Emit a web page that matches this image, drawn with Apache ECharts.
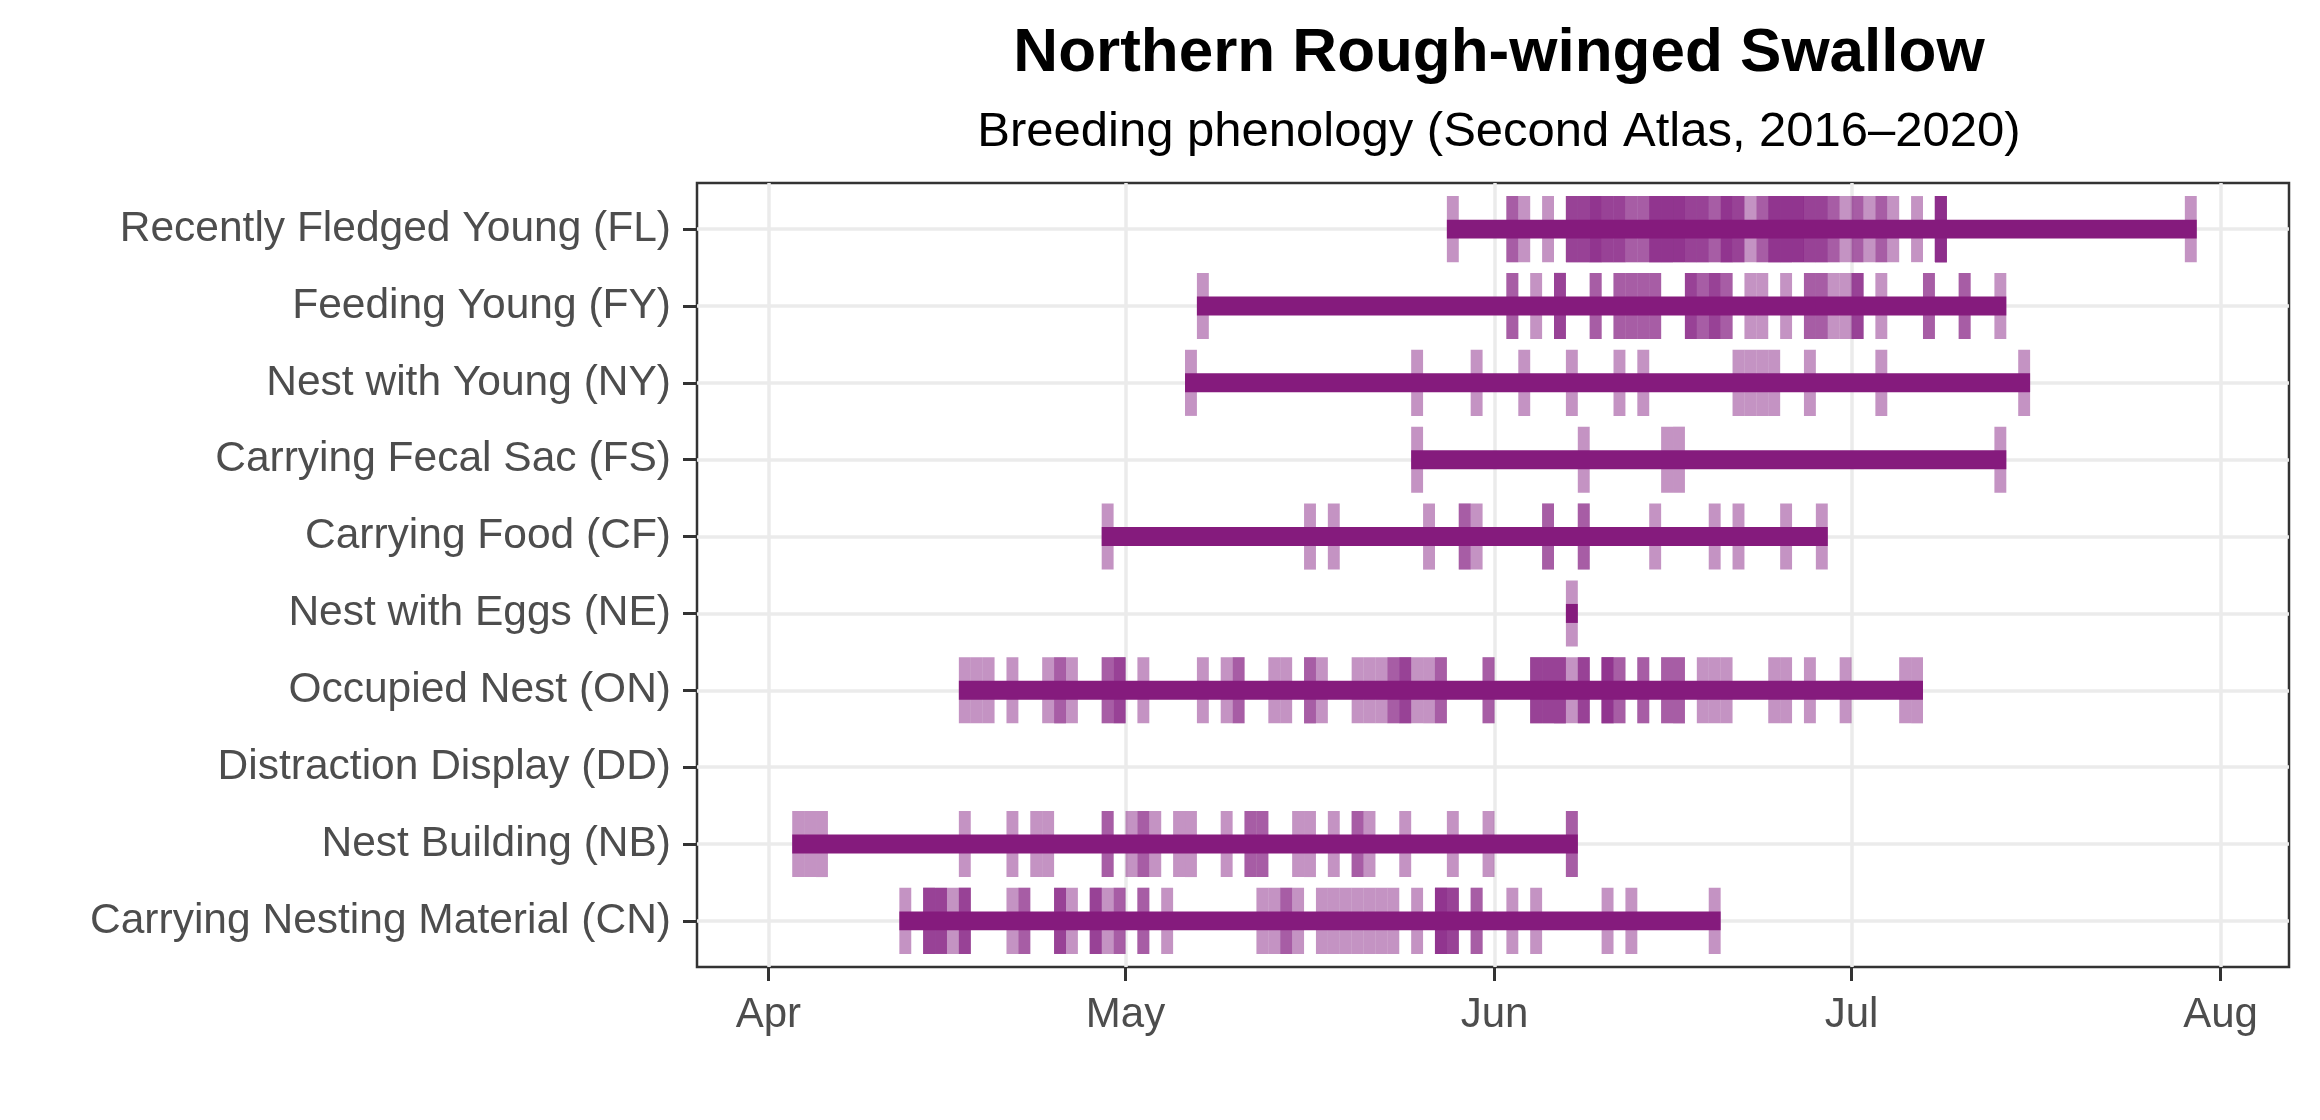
<!DOCTYPE html>
<html>
<head>
<meta charset="utf-8">
<script src="https://cdn.jsdelivr.net/npm/echarts@6/dist/echarts.min.js"></script>
<style>
html,body{margin:0;padding:0;background:#ffffff;}
#chart{width:2320px;height:1120px;}
</style>
</head>
<body>
<div id="chart"></div>
<script>
// ---------------- data ----------------
const titleText = 'Northern Rough-winged Swallow';
const subtitleText = 'Breeding phenology (Second Atlas, 2016\u20132020)';

// rows, top to bottom
const categories = [
  'Recently Fledged Young (FL)',
  'Feeding Young (FY)',
  'Nest with Young (NY)',
  'Carrying Fecal Sac (FS)',
  'Carrying Food (CF)',
  'Nest with Eggs (NE)',
  'Occupied Nest (ON)',
  'Distraction Display (DD)',
  'Nest Building (NB)',
  'Carrying Nesting Material (CN)'
];

// observations per code: [month-day, number of records on that day]
const FL = [['05-28',1],['06-02',2],['06-03',1],['06-05',1],['06-07',3],['06-08',3],['06-09',4],['06-10',3],['06-11',3],['06-12',2],['06-13',2],['06-14',4],['06-15',4],['06-16',4],['06-17',3],['06-18',3],['06-19',2],['06-20',4],['06-21',3],['06-22',1],['06-23',2],['06-24',4],['06-25',4],['06-26',4],['06-27',3],['06-28',3],['06-29',2],['06-30',1],['07-01',2],['07-02',1],['07-03',2],['07-04',1],['07-06',1],['07-08',5],['07-29',1]];
const FY = [['05-07',1],['06-02',2],['06-04',1],['06-06',3],['06-09',2],['06-11',2],['06-12',2],['06-13',2],['06-14',2],['06-17',3],['06-18',2],['06-19',3],['06-20',2],['06-22',1],['06-23',1],['06-25',1],['06-27',2],['06-28',2],['06-29',1],['06-30',1],['07-01',3],['07-03',1],['07-07',2],['07-10',2],['07-13',1]];
const NY = [['05-06',1],['05-25',1],['05-30',1],['06-03',1],['06-07',1],['06-11',1],['06-13',1],['06-21',1],['06-22',1],['06-23',1],['06-24',1],['06-27',1],['07-03',1],['07-15',1]];
const FS = [['05-25',1],['06-08',1],['06-15',1],['06-16',1],['07-13',1]];
const CF = [['04-29',1],['05-16',1],['05-18',1],['05-26',1],['05-29',2],['05-30',1],['06-05',2],['06-08',2],['06-14',1],['06-19',1],['06-21',1],['06-25',1],['06-28',1]];
const NE = [['06-07',1]];
const ON = [['04-17',1],['04-18',1],['04-19',1],['04-21',1],['04-24',1],['04-25',2],['04-26',1],['04-29',2],['04-30',3],['05-02',1],['05-07',1],['05-09',1],['05-10',2],['05-13',1],['05-14',1],['05-16',2],['05-17',1],['05-20',1],['05-21',1],['05-22',1],['05-23',2],['05-24',3],['05-25',1],['05-26',1],['05-27',2],['05-31',2],['06-04',3],['06-05',3],['06-06',3],['06-07',1],['06-08',3],['06-10',4],['06-11',2],['06-13',2],['06-15',2],['06-16',2],['06-18',1],['06-19',1],['06-20',1],['06-24',1],['06-25',1],['06-27',1],['06-30',1],['07-05',1],['07-06',1]];
const DD = [];
const NB = [['04-03',1],['04-04',1],['04-05',1],['04-17',1],['04-21',1],['04-23',1],['04-24',1],['04-29',2],['05-01',1],['05-02',2],['05-03',1],['05-05',1],['05-06',1],['05-09',1],['05-11',2],['05-12',2],['05-15',1],['05-16',1],['05-18',1],['05-20',2],['05-21',1],['05-24',1],['05-28',1],['05-31',1],['06-07',2]];
const CN = [['04-12',1],['04-14',3],['04-15',3],['04-16',1],['04-17',3],['04-21',1],['04-22',2],['04-25',3],['04-26',1],['04-28',3],['04-29',1],['04-30',2],['05-02',2],['05-04',1],['05-12',1],['05-13',1],['05-14',2],['05-15',1],['05-17',1],['05-18',1],['05-19',1],['05-20',1],['05-21',1],['05-22',1],['05-23',1],['05-25',1],['05-27',4],['05-28',3],['05-30',2],['06-02',1],['06-04',1],['06-10',1],['06-12',1],['06-19',1]];

const rowData = [FL, FY, NY, FS, CF, NE, ON, DD, NB, CN];

// x axis ticks
const tickDates = ['04-01','05-01','06-01','07-01','08-01'];
const tickLabels = ['Apr','May','Jun','Jul','Aug'];
const axisStart = '03-26';
const axisEnd = '08-06';

// ---------------- helpers ----------------
const ORIGIN = Date.UTC(2020, 3, 1);
function dayOf(md) {
  const [m, d] = md.split('-').map(Number);
  return (Date.UTC(2020, m - 1, d) - ORIGIN) / 86400000;
}

const obsData = [];
const rangeData = [];
rowData.forEach((rows, i) => {
  if (!rows.length) return;
  let lo = Infinity, hi = -Infinity;
  rows.forEach(([md, n]) => {
    const d = dayOf(md);
    lo = Math.min(lo, d); hi = Math.max(hi, d);
    for (let k = 0; k < n; k++) obsData.push([d, i]);
  });
  rangeData.push([lo, hi + 1, i]);
});

const tickValues = tickDates.map(dayOf);
const FONT = "'Liberation Sans', Arial, Helvetica, sans-serif";
const PURPLE = '#851b7d';

const chart = echarts.init(document.getElementById('chart'), null, {renderer: 'canvas'});
chart.setOption({
  animation: false,
  backgroundColor: '#ffffff',
  title: [
    {
      text: titleText, left: 1494, top: 18, textAlign: 'center',
      textStyle: {fontFamily: FONT, fontSize: 62, fontWeight: 'bold', color: '#000000'}
    },
    {
      text: subtitleText, left: 1494, top: 103, textAlign: 'center',
      textStyle: {fontFamily: FONT, fontSize: 49, fontWeight: 'normal', color: '#000000'}
    }
  ],
  grid: {
    left: 697, right: 31, top: 183, bottom: 153,
    show: true, borderColor: '#333333', borderWidth: 2.5, backgroundColor: '#ffffff'
  },
  xAxis: {
    type: 'value',
    min: dayOf(axisStart),
    max: dayOf(axisEnd) + 0.75,
    axisLine: {show: false, onZero: false},
    axisTick: {show: true, length: 14, customValues: tickValues, lineStyle: {color: '#333333', width: 3}},
    axisLabel: {
      customValues: tickValues,
      formatter: v => tickLabels[tickValues.indexOf(v)] || '',
      fontFamily: FONT, fontSize: 42, color: '#4d4d4d', margin: 27
    },
    splitLine: {show: true, lineStyle: {color: '#ebebeb', width: 3.5}}
  },
  yAxis: {
    type: 'value',
    inverse: true,
    min: -0.6,
    max: categories.length - 1 + 0.6,
    axisLine: {show: false, onZero: false},
    axisTick: {show: true, length: 14, customValues: categories.map((c, i) => i), lineStyle: {color: '#333333', width: 3}},
    axisLabel: {
      customValues: categories.map((c, i) => i),
      formatter: v => categories[v] || '',
      fontFamily: FONT, fontSize: 42.5, color: '#4d4d4d', margin: 26
    },
    splitLine: {show: true, lineStyle: {color: '#ebebeb', width: 3.5}}
  },
  series: [
    {
      type: 'custom',
      name: 'records',
      data: obsData,
      encode: {x: 0, y: 1},
      z: 2,
      renderItem: function (params, api) {
        const d = api.value(0), row = api.value(1);
        const p0 = api.coord([d, row]);
        const p1 = api.coord([d + 1, row]);
        const h = Math.abs(api.size([0, 1])[1]) * 0.86;
        return {
          type: 'rect',
          shape: {x: p0[0], y: p0[1] - h / 2, width: p1[0] - p0[0], height: h},
          style: {fill: 'rgba(137,39,135,0.5)'}
        };
      }
    },
    {
      type: 'custom',
      name: 'range',
      data: rangeData,
      encode: {x: [0, 1], y: 2},
      z: 3,
      renderItem: function (params, api) {
        const row = api.value(2);
        const p0 = api.coord([api.value(0), row]);
        const p1 = api.coord([api.value(1), row]);
        const h = Math.abs(api.size([0, 1])[1]) * 0.247;
        return {
          type: 'rect',
          shape: {x: p0[0], y: p0[1] - h / 2, width: p1[0] - p0[0], height: h},
          style: {fill: PURPLE}
        };
      }
    }
  ]
});
</script>
</body>
</html>
